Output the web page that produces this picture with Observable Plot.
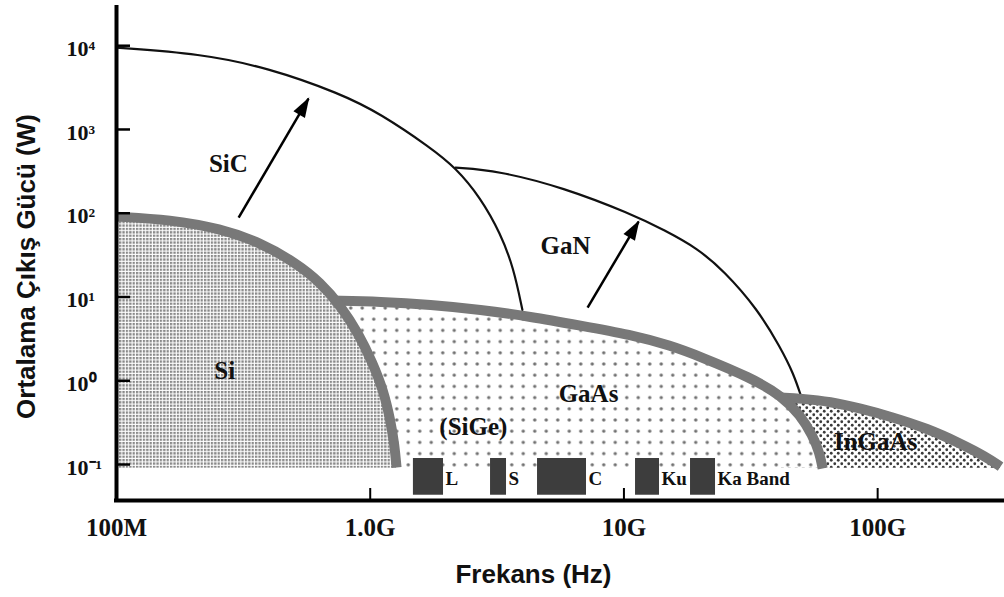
<!DOCTYPE html>
<html><head><meta charset="utf-8">
<script src="https://cdn.jsdelivr.net/npm/d3@7"></script>
<script src="https://cdn.jsdelivr.net/npm/@observablehq/plot@0.6"></script>
<style>body{margin:0;background:#fff}</style>
</head><body><div id="chart"></div>
<script>
// Frequency in GHz, power in W
const xTickValues = [0.1, 1, 10, 100];
const xTickLabels = ["100M", "1.0G", "10G", "100G"];
const yTickExponents = [-1, 0, 1, 2, 3, 4];

const sicFreq  = [0.1, 0.214, 0.394, 0.764, 1.098, 1.729, 2.17, 2.72, 3.264, 3.671, 3.98];
const sicPower = [9470, 8030, 5470, 2680, 1540, 606, 350, 153.6, 57.1, 22.4, 7.0];

const ganFreq  = [2.17, 3.18, 5.78, 10.6, 14.5, 19.5, 24.7, 33.6, 41.4, 46.6, 50.1];
const ganPower = [350, 322, 202, 98.9, 62.5, 38.0, 20.7, 7.2, 2.49, 1.22, 0.631];

const siFreq  = [0.1, 0.163, 0.257, 0.369, 0.508, 0.637, 0.764, 0.899, 1.021, 1.128, 1.202, 1.247, 1.27];
const siPower = [91.1, 83.9, 65.5, 44.6, 25.7, 14.9, 7.89, 3.66, 1.65, 0.764, 0.335, 0.169, 0.092];

const gaasFreq  = [0.71, 1.098, 1.729, 2.72, 4.28, 6.74, 10.6, 15.3, 20.0, 31.6, 41.8, 49.7, 55.4, 59.0, 60.7];
const gaasPower = [9.06, 8.81, 8.11, 7.07, 5.83, 4.56, 3.56, 2.63, 1.94, 1.09, 0.665, 0.385, 0.222, 0.139, 0.0895];

const ingaasFreq  = [41.8, 49.7, 65.2, 85.6, 112.4, 157.3, 212.3, 266.3, 305];
const ingaasPower = [0.631, 0.613, 0.565, 0.466, 0.374, 0.269, 0.178, 0.1245, 0.0946];

const regionFloor = 0.09;

const bandNames = ["L", "S", "C", "Ku", "Ka Band"];
const bandStart = [1.48, 2.98, 4.565, 11.11, 18.3];
const bandEnd   = [1.945, 3.445, 7.12, 13.81, 22.96];
const bandTop = 0.118;
const bandBottom = 0.043;
const bandLabelPower = 0.068;

const regionNames = ["SiC", "GaN", "Si", "GaAs", "(SiGe)", "InGaAs"];
const regionFreq  = [0.276, 5.89, 0.267, 7.25, 2.55, 98.2];
const regionPower = [391, 41, 1.32, 0.70, 0.277, 0.188];

const arrowFreqFrom  = [0.303, 7.19];
const arrowPowerFrom = [88.6, 7.47];
const arrowFreqTo    = [0.571, 11.42];
const arrowPowerTo   = [2331, 79.4];

const xDomain = [0.1, 316.2];
const yDomain = [0.0372, 30200];

const yLabel = "Ortalama Çıkış Gücü (W)";
const xLabel = "Frekans (Hz)";

// ---------- build ----------
const zip = (f, p) => f.map((x, i) => ({x, y: p[i]}));
const sic = zip(sicFreq, sicPower);
const gan = zip(ganFreq, ganPower);
const si = zip(siFreq, siPower);
const gaas = zip(gaasFreq, gaasPower);
const ingaas = zip(ingaasFreq, ingaasPower);
const bands = bandNames.map((name, i) => ({name, start: bandStart[i], end: bandEnd[i]}));
const regions = regionNames.map((name, i) => ({name, x: regionFreq[i], y: regionPower[i]}));
const arrows = arrowFreqFrom.map((f, i) => ({x1: f, y1: arrowPowerFrom[i], x2: arrowFreqTo[i], y2: arrowPowerTo[i]}));
const yTickValues = yTickExponents.map(e => 10 ** e);
const sup = {"-": "\u207B", "0": "\u2070", "1": "\u00B9", "2": "\u00B2", "3": "\u00B3", "4": "\u2074"};
const yTickText = yTickExponents.map(e => "10" + String(e).split("").map(c => sup[c]).join(""));

const serif = "'Liberation Serif', 'Times New Roman', serif";
const sans = "'Liberation Sans', Arial, sans-serif";
const gray = "#787878";
const curve = "basis";

const chart = Plot.plot({
  width: 1004, height: 597,
  marginLeft: 116, marginRight: 0, marginTop: 5, marginBottom: 97,
  x: {type: "log", domain: xDomain, axis: null},
  y: {type: "log", domain: yDomain, axis: null},
  style: {background: "#fff", overflow: "visible", color: "#111"},
  marks: [
    Plot.areaY(ingaas, {x: "x", y1: regionFloor, y2: "y", fill: "url(#pInGaAs)", curve}),
    Plot.areaY(gaas, {x: "x", y1: regionFloor, y2: "y", fill: "url(#pGaAs)", curve}),
    Plot.areaY(si, {x: "x", y1: regionFloor, y2: "y", fill: "url(#pSi)", curve}),
    Plot.line(sic, {x: "x", y: "y", stroke: "#111", strokeWidth: 2.2, curve}),
    Plot.line(gan, {x: "x", y: "y", stroke: "#111", strokeWidth: 2.2, curve}),
    Plot.line(ingaas, {x: "x", y: "y", stroke: gray, strokeWidth: 10, strokeLinecap: "butt", curve}),
    Plot.line(gaas, {x: "x", y: "y", stroke: gray, strokeWidth: 10, strokeLinecap: "butt", curve}),
    Plot.line(si, {x: "x", y: "y", stroke: gray, strokeWidth: 10, strokeLinecap: "butt", curve}),
    Plot.rect(bands, {x1: "start", x2: "end", y1: bandBottom, y2: bandTop, fill: "#3d3d3d"}),
    Plot.text(bands, {x: "end", y: bandLabelPower, text: "name", textAnchor: "start", dx: 2,
      fontSize: 19, fontFamily: serif, fontWeight: "bold", fill: "#111"}),
    Plot.text(regions, {x: "x", y: "y", text: "name", fontSize: 25, fontFamily: serif, fontWeight: "bold", fill: "#111"}),
    Plot.link(arrows, {x1: "x1", y1: "y1", x2: "x2", y2: "y2", stroke: "#000", strokeWidth: 2.5, markerEnd: "arrow"}),
    // axes
    Plot.ruleX([xDomain[0]], {stroke: "#000", strokeWidth: 4}),
    Plot.ruleY([yDomain[0]], {stroke: "#000", strokeWidth: 4, strokeLinecap: "square"}),
    Plot.tickX(xTickValues, {x: d => d, insetTop: 483, stroke: "#000", strokeWidth: 2}),
    Plot.tickY(yTickValues, {y: d => d, insetRight: 874, stroke: "#000", strokeWidth: 2.5}),
    Plot.text(xTickValues, {x: d => d, text: (d, i) => xTickLabels[i], frameAnchor: "bottom", lineAnchor: "middle", dy: 27,
      fontSize: 25, fontFamily: serif, fontWeight: "bold", fill: "#111"}),
    Plot.text(yTickValues, {y: d => d, text: (d, i) => yTickText[i], frameAnchor: "left", textAnchor: "start", lineAnchor: "middle",
      dx: -50, dy: 3, fontSize: 22, fontFamily: serif, fontWeight: "bold", fill: "#111"}),
    Plot.text([yLabel], {text: d => d, frameAnchor: "left", textAnchor: "middle", lineAnchor: "middle", dx: -90, dy: 13.5, rotate: -90,
      fontSize: 26, fontFamily: sans, fontWeight: "bold", fill: "#111"}),
    Plot.text([xLabel], {text: d => d, frameAnchor: "bottom", textAnchor: "middle", lineAnchor: "middle", dx: -27, dy: 74,
      fontSize: 26, fontFamily: sans, fontWeight: "bold", fill: "#111"})
  ]
});

// patterns
const svg = d3.select(chart);
const defs = svg.insert("defs", ":first-child");
const pSi = defs.append("pattern").attr("id", "pSi").attr("patternUnits", "userSpaceOnUse").attr("width", 3.4).attr("height", 3.4);
pSi.append("rect").attr("width", 3.4).attr("height", 3.4).attr("fill", "#fff");
pSi.append("rect").attr("width", 2.3).attr("height", 2.3).attr("fill", "#888");
const pGaAs = defs.append("pattern").attr("id", "pGaAs").attr("patternUnits", "userSpaceOnUse").attr("width", 11.5).attr("height", 11.2);
pGaAs.append("rect").attr("width", 11.5).attr("height", 11.2).attr("fill", "#fff");
pGaAs.append("circle").attr("cx", 5.75).attr("cy", 5.6).attr("r", 1.7).attr("fill", "#707070");
const pIn = defs.append("pattern").attr("id", "pInGaAs").attr("patternUnits", "userSpaceOnUse").attr("width", 7).attr("height", 7);
pIn.append("rect").attr("width", 7).attr("height", 7).attr("fill", "#fff");
pIn.append("circle").attr("cx", 1.75).attr("cy", 1.75).attr("r", 1.4).attr("fill", "#3a3a3a");
pIn.append("circle").attr("cx", 5.25).attr("cy", 5.25).attr("r", 1.4).attr("fill", "#3a3a3a");

// filled arrow heads
svg.selectAll("marker")
  .attr("viewBox", "-12 -5 13 10").attr("markerWidth", 8.67).attr("markerHeight", 6.67)
  .attr("fill", "#000").attr("stroke", "none").attr("overflow", "visible");
svg.selectAll("marker path").attr("d", "M-11,-4L1,0L-11,4Z");

document.getElementById("chart").appendChild(chart);
</script>
</body></html>
